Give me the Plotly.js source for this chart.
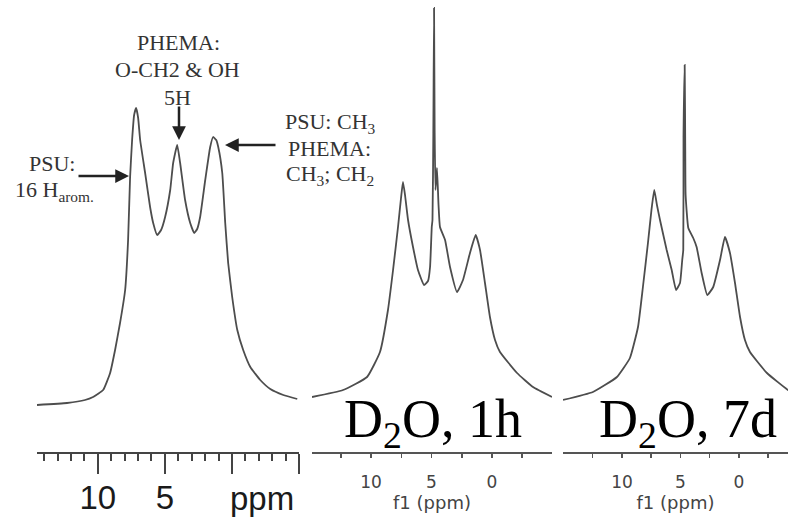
<!DOCTYPE html>
<html>
<head>
<meta charset="utf-8">
<script src="https://cdn.plot.ly/plotly-3.0.1.min.js"></script>
<style>html,body{margin:0;padding:0;background:#fff;overflow:hidden;}#chart{width:788px;height:521px;}</style>
</head>
<body>
<div id="chart"></div>
<script>
// Panel 1: reference spectrum (ppm, intensity a.u.)
var p1_ppm = [14.53,12.29,10.95,10.35,9.60,9.08,8.71,8.34,7.96,7.74,7.59,7.44,7.29,7.14,6.99,6.84,6.47,6.10,5.87,5.57,5.28,4.98,4.60,4.38,4.08,3.86,3.49,3.11,2.81,2.59,2.37,1.99,1.62,1.40,1.17,1.02,0.72,0.50,0.28,-0.02,-0.40,-0.84,-1.37,-2.11,-2.86,-3.83,-4.87];
var p1_int = [0,2,5,8,15,32,55,82,115,165,228,265,290,297,287,265,232,198,182,170,175,188,215,242,260,242,205,182,172,176,188,225,258,268,265,258,232,182,142,108,75,55,38,25,16,10,6];
// Panel 2: D2O, 1h
var p2_ppm = [14.88,12.31,10.33,9.26,8.60,8.18,7.77,7.52,7.36,7.19,6.94,6.53,6.12,5.62,5.29,5.12,4.98,4.92,4.85,4.79,4.74,4.67,4.55,4.42,4.30,3.88,3.47,2.89,2.40,1.82,1.35,0.99,0.58,0.17,-0.25,-0.66,-2.07,-3.39,-4.96];
var p2_int = [8,15,28,53,95,135,178,207,223,210,185,158,135,120,124,138,178,185,272,397,272,215,237,200,178,165,138,113,125,152,170,155,122,88,65,53,32,18,8];
// Panel 3: D2O, 7d
var p3_ppm = [15.04,12.48,10.43,9.32,8.63,8.21,7.78,7.48,7.24,7.01,6.75,6.18,5.75,5.38,5.04,4.85,4.76,4.74,4.64,4.59,4.56,4.33,3.91,3.62,3.19,2.71,2.20,1.62,1.20,0.77,0.34,-0.09,-0.51,-0.94,-2.39,-4.19,-4.96];
var p3_int = [5,13,28,47,78,118,162,195,215,200,185,155,135,115,122,145,155,268,340,255,210,177,167,158,132,110,118,145,168,152,122,88,65,53,32,15,10];

var p1_tickvals = [10,5,0,-5];
var p1_ticktext = ['10','5','',''];
var p23_tickvals = [12.5,10,7.5,5,2.5,0,-2.5];
var p23_ticktext = ['','10','','5','','0',''];

var lineStyle = {color:'#4d4d4d', width:1.8, shape:'spline', smoothing:0.4};
var traces = [
  {x:p1_ppm, y:p1_int, xaxis:'x', yaxis:'y', mode:'lines', line:lineStyle, hoverinfo:'none'},
  {x:p2_ppm, y:p2_int, xaxis:'x2', yaxis:'y', mode:'lines', line:lineStyle, hoverinfo:'none'},
  {x:p3_ppm, y:p3_int, xaxis:'x3', yaxis:'y', mode:'lines', line:lineStyle, hoverinfo:'none'}
];

var W = 788, H = 521;
function px(x){return x/W;}
function py(y){return 1 - y/H;}

var smallAxis = {
  anchor:'y', autorange:false, showgrid:false, zeroline:false,
  showline:true, linecolor:'#555', linewidth:1.5,
  ticks:'outside', ticklen:4, tickwidth:1.5, tickcolor:'#555',
  tickmode:'array', tickvals:p23_tickvals, ticktext:p23_ticktext,
  ticklabelstandoff:10,
  tickfont:{family:'DejaVu Sans', size:17, color:'#444'},
  title:{text:'f1 (ppm)', font:{family:'DejaVu Sans', size:18, color:'#444'}, standoff:1}
};

var serif22 = {family:'Liberation Serif', size:22, color:'#333'};
function label(x, y, text, font){
  return {xref:'paper', yref:'paper', x:px(x), y:py(y), xanchor:'center', yanchor:'middle',
          text:text, showarrow:false, font:font || serif22};
}
function arrow(x, y, ax, ay){
  return {xref:'paper', yref:'paper', x:px(x), y:py(y), text:'', showarrow:true, ax:ax, ay:ay,
          arrowhead:2, arrowsize:1.1, arrowwidth:2.5, arrowcolor:'#222', standoff:0};
}

var layout = {
  width:W, height:H, margin:{l:0,r:0,t:0,b:0},
  paper_bgcolor:'#fff', plot_bgcolor:'#fff', showlegend:false,
  yaxis:{domain:[69/H,1], range:[-47,405], visible:false, anchor:'x'},
  xaxis:{
    domain:[px(37), px(299)], range:[14.53,-5.0], anchor:'y', showgrid:false, zeroline:false,
    showline:true, linecolor:'#444', linewidth:2,
    ticks:'outside', ticklen:20, tickwidth:2, tickcolor:'#444',
    tickmode:'array', tickvals:p1_tickvals, ticktext:p1_ticktext,
    ticklabelstandoff:-5,
    tickfont:{family:'Liberation Sans', size:33, color:'#1a1a1a'},
    minor:{tickmode:'linear', tick0:0, dtick:1, ticks:'outside', ticklen:7, tickwidth:2, tickcolor:'#444'}
  },
  xaxis2:Object.assign({}, smallAxis, {domain:[px(312), px(552)], range:[14.88,-4.96]}),
  xaxis3:Object.assign({}, smallAxis, {domain:[px(563), 1], range:[15.04,-4.19]}),
  annotations:[
    label(262, 498, 'ppm', {family:'Liberation Sans', size:33, color:'#1a1a1a'}),
    label(178, 43, 'PHEMA:'),
    label(177, 70, 'O-CH2 &amp; OH'),
    label(177, 97, '5H'),
    label(52, 163, 'PSU:'),
    label(54, 191, '16 H<sub>arom.</sub>'),
    label(330, 123, 'PSU: CH<sub>3</sub>'),
    label(329, 148, 'PHEMA:'),
    label(330, 175, 'CH<sub>3</sub>; CH<sub>2</sub>'),
    arrow(179, 140, 0, -35),
    arrow(129, 176, -52, 0),
    arrow(225, 145, 52, 0),
    {xref:'paper', yref:'paper', x:px(433), y:py(458), xanchor:'center', yanchor:'bottom', text:'D<sub>2</sub>O, 1h', showarrow:false, font:{family:'Liberation Serif', size:54, color:'#000'}},
    {xref:'paper', yref:'paper', x:px(688), y:py(458), xanchor:'center', yanchor:'bottom', text:'D<sub>2</sub>O, 7d', showarrow:false, font:{family:'Liberation Serif', size:54, color:'#000'}}
  ]
};

Plotly.newPlot('chart', traces, layout, {staticPlot:true, displayModeBar:false});
</script>
</body>
</html>
